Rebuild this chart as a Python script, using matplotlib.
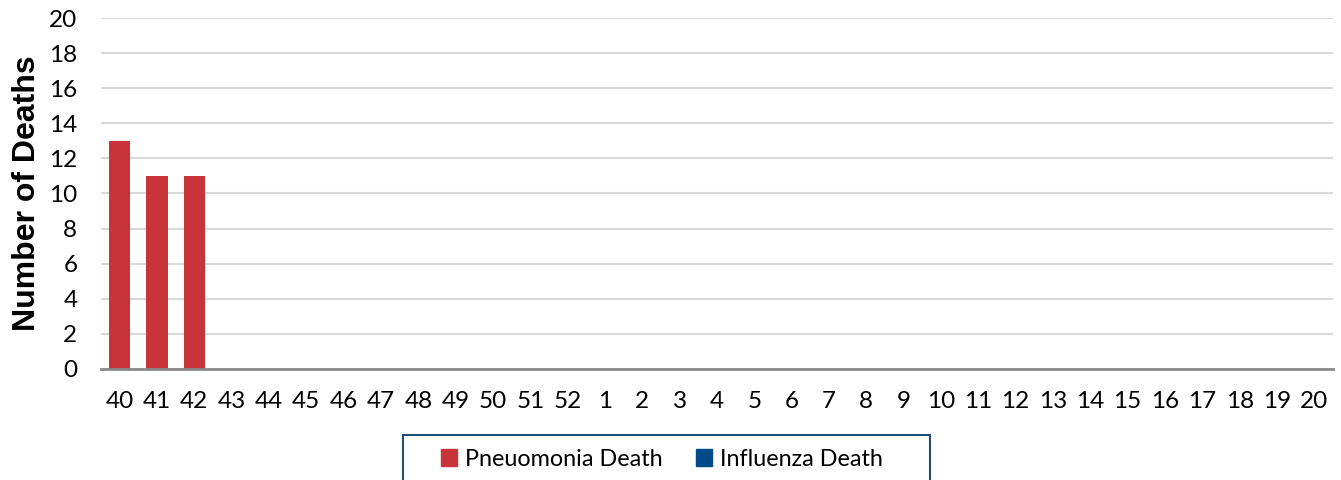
import matplotlib.pyplot as plt
from matplotlib.patches import Rectangle, Patch
import numpy as np

weeks = [40, 41, 42, 43, 44, 45, 46, 47, 48, 49, 50, 51, 52,
         1, 2, 3, 4, 5, 6, 7, 8, 9, 10, 11, 12, 13, 14, 15, 16, 17, 18, 19, 20]
pneumonia = [13, 11, 11] + [0] * 30
influenza = [0] * 33

red = "#C9343B"
blue = "#004A8A"

plt.rcParams["font.family"] = ["Lato", "DejaVu Sans"]

fig = plt.figure(figsize=(13.41, 4.80), dpi=100)
ax = fig.add_axes([0.0753, 0.2313, 0.9187, 0.7312])

x = np.arange(len(weeks))
ax.bar(x, pneumonia, width=0.57, color=red, zorder=3)
ax.bar(x, influenza, width=0.57, color=blue, zorder=3)

ax.set_xlim(-0.5, len(weeks) - 0.5)
ax.set_ylim(0, 20)
ax.set_yticks(range(0, 21, 2))
ax.set_xticks(x)
ax.set_xticklabels([str(w) for w in weeks])
ax.tick_params(axis="both", length=0, labelsize=17.5, colors="black")
ax.tick_params(axis="x", pad=16)
ax.tick_params(axis="y", pad=17)

ax.grid(axis="y", color="#D9D9D9", linewidth=1.5, zorder=0)
for s in ["top", "right", "left"]:
    ax.spines[s].set_visible(False)
ax.spines["bottom"].set_color("#898989")
ax.spines["bottom"].set_linewidth(2)
ax.spines["bottom"].set_zorder(4)

ax.set_ylabel("Number of Deaths", fontsize=23, fontweight="bold",
              family="Liberation Sans", labelpad=5)

# legend box, cut off at the bottom of the figure
fig.patches.append(Rectangle((403 / 1341, -0.02), 527 / 1341, 1 - 435 / 480 + 0.02,
                             transform=fig.transFigure, fill=False,
                             edgecolor="#1F4E79", linewidth=1.5))
handles = [Patch(color=red), Patch(color=blue)]
fig.legend(handles, ["Pneuomonia Death", "Influenza Death"], ncol=2,
           loc="center", bbox_to_anchor=(662 / 1341, 1 - 459 / 480),
           frameon=False, fontsize=16.8, handlelength=0.7, handleheight=0.7,
           handletextpad=0.35, columnspacing=1.4)

fig.savefig("out.png", dpi=100)
